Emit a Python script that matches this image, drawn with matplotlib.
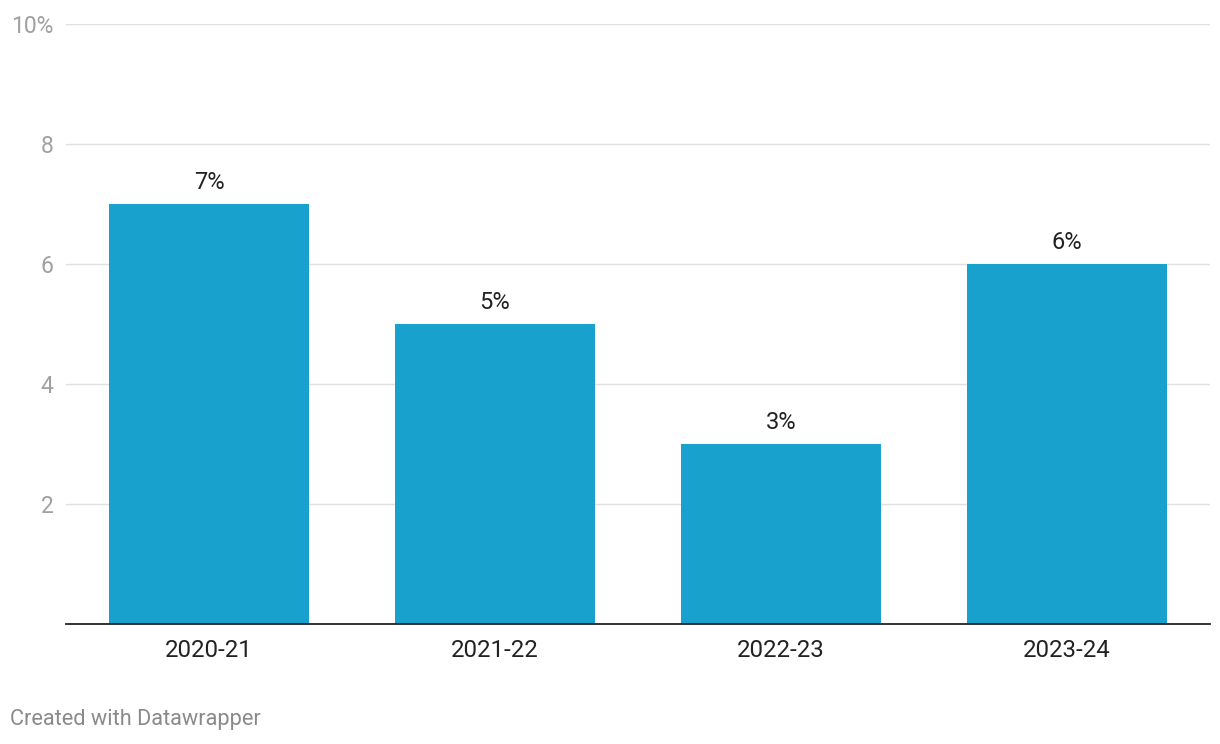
import matplotlib
matplotlib.use("Agg")
from matplotlib import pyplot as plt

# data
years = ["2020-21", "2021-22", "2022-23", "2023-24"]
values = [7, 5, 3, 6]
yticks = [2, 4, 6, 8, 10]
ytick_labels = ["2", "4", "6", "8", "10%"]

plt.rcParams['font.family'] = ['Roboto', 'DejaVu Sans']

fig = plt.figure(figsize=(12.2, 7.44), dpi=100)
ax = fig.add_axes([66 / 1220, 120 / 744, 1144 / 1220, 600 / 744])

x = range(len(years))
ax.bar(x, values, width=0.7, color='#18a1cd', zorder=3)

for i, v in zip(x, values):
    ax.annotate('%d%%' % v, (i, v), xytext=(0, 7), textcoords='offset points',
                ha='center', va='bottom', fontsize=17, color='#222222')

ax.set_xlim(-0.5, len(years) - 0.5)
ax.set_ylim(0, 10)
ax.set_yticks(yticks)
ax.set_yticklabels(ytick_labels)
ax.set_xticks(list(x))
ax.set_xticklabels(years)

ax.grid(axis='y', color='#e0e0e0', linewidth=1, zorder=0)
ax.tick_params(axis='y', length=0, pad=9, labelsize=16.5, labelcolor='#a0a0a0')
ax.tick_params(axis='x', length=0, pad=11, labelsize=17.3, labelcolor='#222222')

for s in ['top', 'right', 'left']:
    ax.spines[s].set_visible(False)
ax.spines['bottom'].set_color('#222222')
ax.spines['bottom'].set_linewidth(1.3)
ax.spines['bottom'].set_zorder(4)

fig.text(10 / 1220, 1 - 720 / 744, 'Created with Datawrapper', ha='left', va='center',
         fontsize=15.7, color='#8a8a8a')

fig.savefig('out.png', dpi=100)
